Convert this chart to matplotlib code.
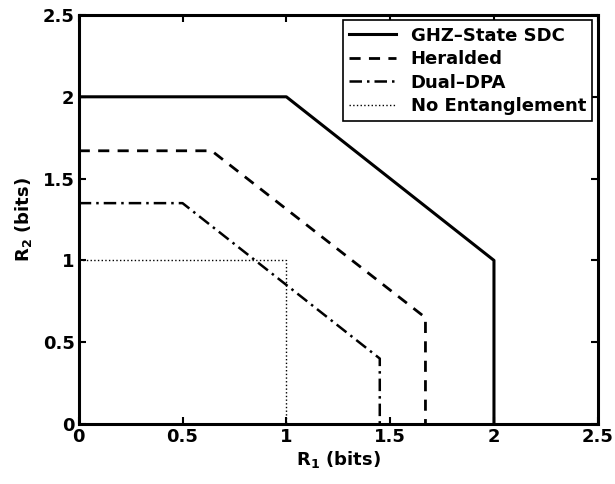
import matplotlib.pyplot as plt

plt.rcParams['font.family'] = ['DejaVu Sans']
plt.rcParams['font.weight'] = 'bold'

# region corner points (R1, R2)
ghz_r1 = [0, 1, 2, 2]
ghz_r2 = [2, 2, 1, 0]
her_r1 = [0, 0.64, 1.67, 1.67]
her_r2 = [1.67, 1.67, 0.65, 0]
dpa_r1 = [0, 0.5, 1.45, 1.45]
dpa_r2 = [1.35, 1.35, 0.4, 0]
noe_r1 = [0, 1, 1]
noe_r2 = [1, 1, 0]

fig = plt.figure(figsize=(6.15, 4.84), dpi=100)
ax = fig.add_axes([0.128, 0.124, 0.844, 0.845])

ax.plot(ghz_r1, ghz_r2, 'k-', lw=2.2, label='GHZ\u2013State SDC')
ax.plot(her_r1, her_r2, 'k--', lw=2.0, dashes=(4, 3), label='Heralded')
ax.plot(dpa_r1, dpa_r2, 'k-.', lw=1.8, dashes=(5, 2, 1, 2), label='Dual\u2013DPA')
ax.plot(noe_r1, noe_r2, 'k:', lw=1.0, label='No Entanglement')

ax.set_xlim(0, 2.5)
ax.set_ylim(0, 2.5)
ticks = [0, 0.5, 1, 1.5, 2, 2.5]
labels = ['0', '0.5', '1', '1.5', '2', '2.5']
ax.set_xticks(ticks, labels)
ax.set_yticks(ticks, labels)
ax.tick_params(direction='in', top=True, right=True, length=5, width=1.5,
               labelsize=13, pad=3)
for s in ax.spines.values():
    s.set_linewidth(2.2)

ax.set_xlabel('R$_\\mathbf{1}$ (bits)', fontsize=13, fontweight='bold', labelpad=2)
ax.set_ylabel('R$_\\mathbf{2}$ (bits)', fontsize=13, fontweight='bold', labelpad=6)

leg = ax.legend(loc='upper right', fontsize=13, fancybox=False, framealpha=1,
                edgecolor='black', handlelength=2.6, labelspacing=0.3,
                borderaxespad=0.3, borderpad=0.35, handletextpad=0.8)
leg.get_frame().set_linewidth(1.2)

plt.savefig('out.png')
